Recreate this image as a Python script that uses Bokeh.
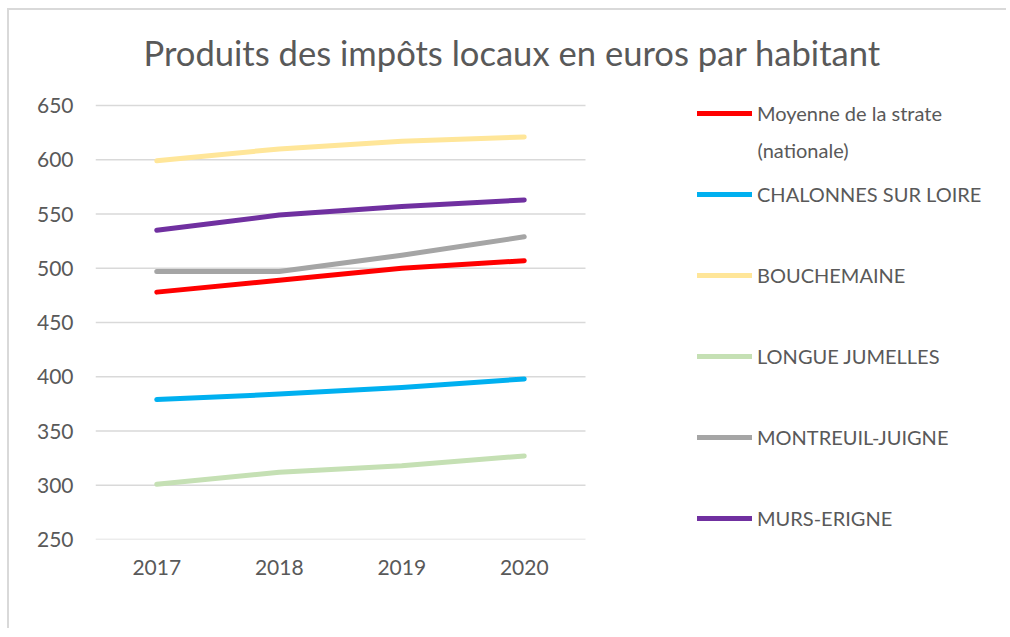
from bokeh.plotting import figure
from bokeh.models import Legend, LegendItem, Label, FixedTicker, Range1d
from bokeh.embed import file_html
from bokeh.resources import INLINE

years = [2017, 2018, 2019, 2020]
moyenne = [478, 489, 500, 507]
chalonnes = [379, 384, 390, 398]
bouchemaine = [599, 610, 617, 621]
longue_jumelles = [301, 312, 318, 327]
montreuil = [497, 497, 512, 529]
murs_erigne = [535, 549, 557, 563]

series_names = ["Moyenne de la strate", "CHALONNES SUR LOIRE", "BOUCHEMAINE",
                "LONGUE JUMELLES", "MONTREUIL-JUIGNE", "MURS-ERIGNE"]
name_second_line = "(nationale)"
series_values = [moyenne, chalonnes, bouchemaine, longue_jumelles, montreuil, murs_erigne]
series_colors = ["#FF0000", "#00B0F0", "#FFE699", "#C5E0B4", "#A5A5A5", "#7030A0"]
y_ticks = [250, 300, 350, 400, 450, 500, 550, 600, 650]
title_text = "Produits des impôts locaux en euros par habitant"

FONT = "Lato"
GREY = "#595959"

# layout (page pixels)
OX, OY = 9, 10                 # canvas origin on the page (after css margin + border)
FRAME_L, FRAME_R = 95, 1000     # frame left / right
FRAME_T, FRAME_B = 12, 539      # frame top / bottom
DATA_R = 585                    # right end of the year area
GRID_TOP = 105                  # pixel row of the highest tick
W, H = 999, 620

x0 = years[0] - 0.5
x1 = years[-1] + 0.5
x_end = x0 + (x1 - x0) * (FRAME_R - FRAME_L) / (DATA_R - FRAME_L)
y_end = y_ticks[-1] + (y_ticks[-1] - y_ticks[0]) * (GRID_TOP - FRAME_T) / (FRAME_B - GRID_TOP)

p = figure(width=W, height=H, output_backend="svg", toolbar_location=None,
           x_range=Range1d(x0, x_end), y_range=Range1d(y_ticks[0], y_end),
           min_border_left=FRAME_L - OX, min_border_right=W - (FRAME_R - OX),
           min_border_top=FRAME_T - OY, min_border_bottom=H - (FRAME_B - OY))
p.styles = {"margin-left": "7px", "margin-top": "8px",
            "border-top": "2px solid #D9D9D9", "border-left": "2px solid #D9D9D9"}
p.outline_line_color = None
p.background_fill_color = "white"
p.border_fill_color = "white"

p.xgrid.grid_line_color = None
p.ygrid.grid_line_color = None
p.segment(x0=[x0] * len(y_ticks), x1=[x1] * len(y_ticks), y0=y_ticks, y1=y_ticks,
          line_color="#D9D9D9", line_width=1.5)

p.yaxis.ticker = FixedTicker(ticks=y_ticks)
p.xaxis.ticker = FixedTicker(ticks=years)
for ax in (p.xaxis, p.yaxis):
    ax.axis_line_color = None
    ax.major_tick_line_color = None
    ax.minor_tick_line_color = None
    ax.major_label_text_font = FONT
    ax.major_label_text_font_size = "21px"
    ax.major_label_text_color = GREY
p.yaxis.major_label_standoff = 16
p.xaxis.major_label_standoff = 14

items = []
for name, vals, col in zip(series_names, series_values, series_colors):
    r = p.line(years, vals, line_color=col, line_width=5, line_cap="round", line_join="round")
    items.append(LegendItem(label=name, renderers=[r]))

legend = Legend(items=items, location=(697 - FRAME_L, 9), padding=0, margin=0, spacing=57,
                glyph_width=55, glyph_height=24, label_height=24, label_standoff=5,
                border_line_color=None, background_fill_alpha=0,
                label_text_font=FONT, label_text_font_size="20px", label_text_color=GREY)
p.add_layout(legend)

p.add_layout(Label(x=757 - FRAME_L, y=FRAME_B - 149, x_units="screen", y_units="screen",
                   text=name_second_line, text_font=FONT, text_font_size="20px",
                   text_color=GREY, text_baseline="middle", text_align="left"))
p.add_layout(Label(x=143 - FRAME_L, y=FRAME_B - 52, x_units="screen", y_units="screen",
                   text=title_text, text_font=FONT, text_font_size="34.6px",
                   text_color=GREY, text_baseline="middle", text_align="left"))

open("out.html", "w").write(file_html(p, INLINE))
